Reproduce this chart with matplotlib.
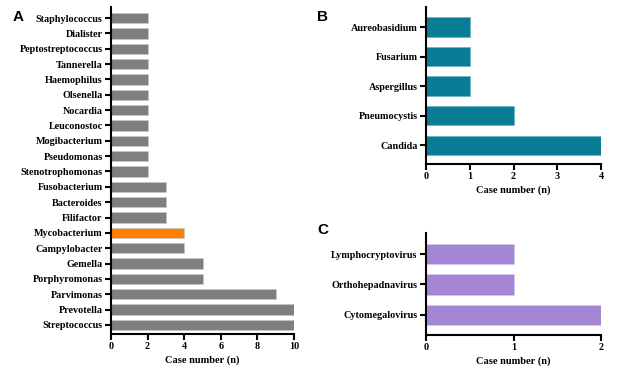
import matplotlib
matplotlib.use('Agg')
import matplotlib.pyplot as plt

# 数据
bact_names = ['Streptococcus', 'Prevotella', 'Parvimonas', 'Porphyromonas', 'Gemella',
              'Campylobacter', 'Mycobacterium', 'Filifactor', 'Bacteroides', 'Fusobacterium',
              'Stenotrophomonas', 'Pseudomonas', 'Mogibacterium', 'Leuconostoc', 'Nocardia',
              'Olsenella', 'Haemophilus', 'Tannerella', 'Peptostreptococcus', 'Dialister',
              'Staphylococcus']
bact_counts = [10, 10, 9, 5, 5, 4, 4, 3, 3, 3, 2, 2, 2, 2, 2, 2, 2, 2, 2, 2, 2]

fungi_names = ['Candida', 'Pneumocystis', 'Aspergillus', 'Fusarium', 'Aureobasidium']
fungi_counts = [4, 2, 1, 1, 1]

virus_names = ['Cytomegalovirus', 'Orthohepadnavirus', 'Lymphocryptovirus']
virus_counts = [2, 1, 1]

plt.rcParams['font.family'] = ['Liberation Serif', 'DejaVu Serif']
plt.rcParams['font.weight'] = 'bold'

W, H = 620, 380
fig = plt.figure(figsize=(6.2, 3.8), dpi=100)

def px_axes(x0, x1, y0, y1):
    # 像素坐标 -> 图坐标
    return fig.add_axes([x0 / W, 1 - y1 / H, (x1 - x0) / W, (y1 - y0) / H])

def style(ax, xmax, step, ylim):
    ax.set_xlim(0, xmax)
    ax.set_ylim(*ylim)
    ax.set_xticks(range(0, xmax + 1, step))
    for s in ['top', 'right']:
        ax.spines[s].set_visible(False)
    for s in ['left', 'bottom']:
        ax.spines[s].set_linewidth(1.5)
    ax.tick_params(width=1.5, length=4, labelsize=7.3, pad=2)
    for lab in ax.get_xticklabels() + ax.get_yticklabels():
        lab.set_fontweight('bold')
    ax.set_xlabel('Case number (n)', fontsize=7.5, fontweight='bold', labelpad=3)

# A
axA = px_axes(111, 294, 7, 334)
colorsA = ['#ff8000' if n == 'Mycobacterium' else '#7f7f7f' for n in bact_names]
axA.barh(range(len(bact_names)), bact_counts, height=0.68, color=colorsA,
         edgecolor='#c8c8c8', linewidth=0.5)
axA.set_yticks(range(len(bact_names)))
axA.set_yticklabels(bact_names)
style(axA, 10, 2, (-0.59, 20.72))

# B
axB = px_axes(426, 601, 7, 164)
axB.barh(range(len(fungi_names)), fungi_counts, height=0.65, color='#0a7d96',
         edgecolor='#6fb3c2', linewidth=0.5)
axB.set_yticks(range(len(fungi_names)))
axB.set_yticklabels(fungi_names)
style(axB, 4, 1, (-0.64, 4.68))

# C
axC = px_axes(426, 601, 233, 335)
axC.barh(range(len(virus_names)), virus_counts, height=0.68, color='#a385d4',
         edgecolor='#d6c8ee', linewidth=0.5)
axC.set_yticks(range(len(virus_names)))
axC.set_yticklabels(virus_names)
style(axC, 2, 1, (-0.66, 2.69))

for lab, x, y in [('A', 18, 17), ('B', 323, 17), ('C', 323, 230)]:
    fig.text(x / W, 1 - y / H, lab, fontsize=11, fontweight='bold',
             family='Liberation Sans', ha='center', va='center')

fig.savefig('out.png', dpi=100)
